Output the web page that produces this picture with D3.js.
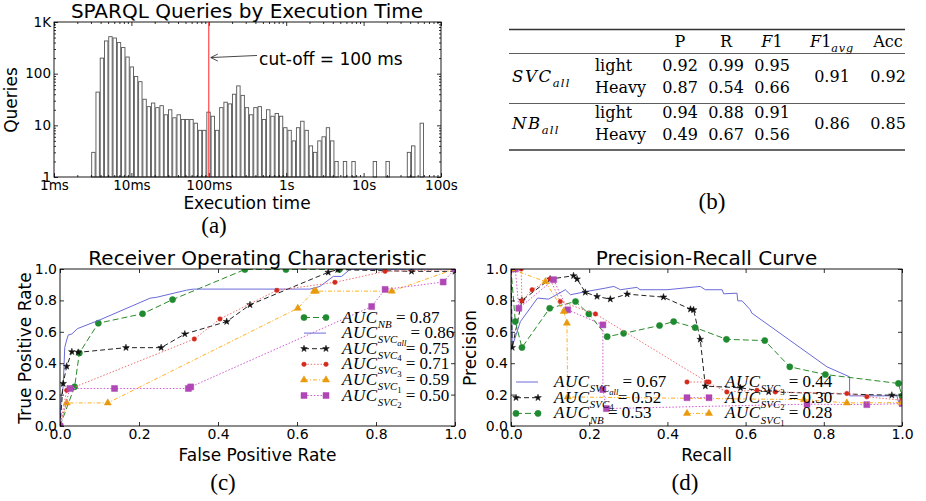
<!DOCTYPE html>
<html>
<head>
<meta charset="utf-8">
<script src="https://cdn.jsdelivr.net/npm/d3@7"></script>
<style>
  body { margin: 0; background: #fff; }
  svg text { fill: #000; }
</style>
</head>
<body>
<svg></svg>
<script>
const width = 926;
const height = 501;

// ---- (a) histogram data ----
const histCounts = [3, 44, 200, 430, 520, 490, 400, 320, 210, 135,
  88, 70, 32, 23, 27, 22, 24, 16, 20, 14,
  16, 13, 13, 13, 11, 8, 8, 18, 15, 8,
  22, 28, 26, 40, 58, 38, 22, 16, 22, 23,
  13, 20, 15, 17, 15, 9, 8, 5, 9, 12,
  8, 4, 3, 5, 6, 9, 5, 2, 0, 2,
  0, 2, 0, 0, 0, 0, 2, 0, 0, 2,
  0, 0, 0, 0, 3, 4, 0, 11];
const histLogStart = 0.487;   // log10(ms) of the first bin edge
const histLogStep = 0.0551;   // bin width in log10(ms)
const cutoffMs = 100;
const timeTicks = [1, 10, 100, 1000, 10000, 100000];
const timeLabels = ["1ms", "10ms", "100ms", "1s", "10s", "100s"];
const countTicks = [1, 10, 100, 1000];
const countLabels = ["1", "10", "100", "1K"];

// ---- (b) table data ----
const tableClasses = ["light", "Heavy"];
const svcScores = [[0.92, 0.99, 0.95], [0.87, 0.54, 0.66]];
const nbScores = [[0.94, 0.88, 0.91], [0.49, 0.67, 0.56]];
const f1Avg = [0.91, 0.86];
const accuracy = [0.92, 0.85];

// ---- (c) ROC curves [fpr, tpr] ----
const rocNB = [[0, 0], [0.037, 0.25], [0.049, 0.465], [0.097, 0.655], [0.209, 0.715], [0.285, 0.805],
  [0.468, 0.997], [0.572, 0.997], [0.707, 0.997], [1, 1]];
const rocSvcAll = [[0, 0], [0.003, 0.185], [0.008, 0.25], [0.012, 0.5], [0.017, 0.548], [0.021, 0.58],
  [0.03, 0.586], [0.044, 0.62], [0.1, 0.675], [0.228, 0.814], [0.245, 0.82], [0.32, 0.865],
  [0.338, 0.872], [0.633, 0.872], [0.658, 0.889], [0.692, 0.953], [0.713, 0.953], [0.734, 0.997], [1, 1]];
const rocSvc4 = [[0, 0], [0.008, 0.27], [0.017, 0.38], [0.03, 0.473], [0.046, 0.469], [0.167, 0.499],
  [0.256, 0.499], [0.316, 0.586], [0.422, 0.665], [0.481, 0.772], [0.679, 0.979], [0.703, 0.996],
  [0.89, 0.985], [1, 0.985]];
const rocSvc3 = [[0, 0], [0.017, 0.228], [0.34, 0.554], [0.405, 0.682], [0.549, 0.864], [0.696, 0.915],
  [0.823, 0.985], [1, 0.996]];
const rocSvc1 = [[0, 0], [0.017, 0.147], [0.121, 0.147], [0.602, 0.75], [0.643, 0.859], [0.648, 0.859],
  [0.84, 0.859], [1, 1]];
const rocSvc2 = [[0, 0], [0.025, 0.239], [0.138, 0.239], [0.325, 0.239], [0.331, 0.249], [0.789, 0.761],
  [0.823, 0.87], [0.97, 0.917], [1, 1]];

// ---- (d) precision-recall curves [recall, precision] ----
const prSvcAll = [[0, 1], [0.003, 0.505], [0.024, 0.665], [0.068, 0.815], [0.096, 0.808], [0.139, 0.868],
  [0.152, 0.836], [0.194, 0.857], [0.241, 0.878], [0.263, 0.889], [0.28, 0.868], [0.322, 0.883],
  [0.33, 0.868], [0.399, 0.868], [0.484, 0.889], [0.497, 0.868], [0.54, 0.868], [0.544, 0.842],
  [0.578, 0.846], [0.58, 0.797], [0.591, 0.797], [0.612, 0.74], [0.616, 0.719], [0.808, 0.377],
  [0.866, 0.313], [0.866, 0.192], [0.987, 0.192], [0.991, 0.153], [1, 0.153]];
const prSvc4 = [[0, 1], [0.003, 0.5], [0.028, 0.8], [0.1, 0.936], [0.16, 0.957], [0.169, 0.936],
  [0.19, 0.851], [0.22, 0.825], [0.254, 0.808], [0.297, 0.84], [0.39, 0.821], [0.459, 0.744],
  [0.467, 0.74], [0.484, 0.552], [0.497, 0.254], [0.587, 0.243], [0.659, 0.217], [0.974, 0.196], [1, 0.196]];
const prNB = [[0, 1], [0.011, 0.665], [0.028, 0.5], [0.099, 0.75], [0.165, 0.793], [0.199, 0.714],
  [0.246, 0.569], [0.288, 0.59], [0.38, 0.64], [0.416, 0.665], [0.471, 0.627], [0.551, 0.552],
  [0.649, 0.544], [0.713, 0.377], [0.804, 0.328], [0.991, 0.271], [1, 0.19]];
const prSvc3 = [[0, 1], [0.026, 1], [0.028, 0.797], [0.054, 0.868], [0.1, 0.936], [0.126, 0.793],
  [0.216, 0.714], [0.501, 0.281], [0.552, 0.217], [0.629, 0.228], [0.676, 0.217], [0.859, 0.207],
  [0.91, 0.186], [1, 0.164]];
const prSvc2 = [[0, 1], [0.011, 1], [0.02, 0.75], [0.109, 0.932], [0.145, 0.74], [0.235, 0.644],
  [0.235, 0.232], [0.244, 0.111], [0.757, 0.139], [0.91, 0.136], [1, 0.143]];
const prSvc1 = [[0, 1], [0.088, 0.92], [0.135, 0.73], [0.143, 0.655], [0.145, 0.185], [0.749, 0.168],
  [0.859, 0.147], [1, 0.149]];

const rocAuc = [0.87, 0.86, 0.75, 0.71, 0.59, 0.50];   // NB, SVC_all, SVC_4, SVC_3, SVC_1, SVC_2
const prAuc = [0.67, 0.52, 0.53, 0.44, 0.30, 0.28];    // SVC_all, SVC_4, NB, SVC_3, SVC_2, SVC_1
const unitTicks = [0, 0.2, 0.4, 0.6, 0.8, 1.0];

// series looks
const styles = {
  nb:   { line: "#2a8a2a", dash: "6,3", marker: d3.symbolCircle, size: 30, fill: "#1f8a2f", sub: ["NB"] },
  all:  { line: "#6a6ad8", dash: null, marker: null, sub: ["SVC", "all"] },
  svc4: { line: "#222", dash: "5,3", marker: d3.symbolStar, size: 14, fill: "#111", sub: ["SVC", "4"] },
  svc3: { line: "#f07070", dash: "1.5,1.8", marker: d3.symbolCircle, size: 16, fill: "#d42a1e", sub: ["SVC", "3"] },
  svc1: { line: "#ffb020", dash: "4,2,1,2", marker: d3.symbolTriangle, size: 22, fill: "#e89a0c", sub: ["SVC", "1"] },
  svc2: { line: "#d25ad2", dash: "1.5,1.8", marker: d3.symbolSquare, size: 36, fill: "#b047b6", sub: ["SVC", "2"] }
};

const sans = "DejaVu Sans, sans-serif";
const serif = "DejaVu Serif, serif";
const roman = "Liberation Serif, serif";

const svg = d3.select("svg").attr("width", width).attr("height", height);

// inward ticks on all four sides, frame drawn as a rect
function drawFrame(g, x, y, xTicks, yTicks, xFmt, yFmt, fontSize, minorX, minorY) {
  const [x0, x1] = x.range();
  const [y0, y1] = y.range();
  const style = a => a.call(s => s.select(".domain").remove())
    .call(s => s.selectAll("line").attr("stroke", "#000").attr("stroke-width", 0.8))
    .call(s => s.selectAll("text").attr("font-family", sans).attr("font-size", fontSize).attr("fill", "#000"));

  g.append("g").attr("transform", `translate(0,${y0})`)
    .call(d3.axisBottom(x).tickValues(xTicks).tickFormat(xFmt).tickSizeInner(-4).tickSizeOuter(0).tickPadding(3)).call(style);
  g.append("g").attr("transform", `translate(0,${y1})`)
    .call(d3.axisTop(x).tickValues(xTicks).tickFormat("").tickSizeInner(-4).tickSizeOuter(0)).call(style);
  g.append("g").attr("transform", `translate(${x0},0)`)
    .call(d3.axisLeft(y).tickValues(yTicks).tickFormat(yFmt).tickSizeInner(-4).tickSizeOuter(0).tickPadding(3)).call(style);
  g.append("g").attr("transform", `translate(${x1},0)`)
    .call(d3.axisRight(y).tickValues(yTicks).tickFormat("").tickSizeInner(-4).tickSizeOuter(0)).call(style);

  if (minorX) {
    g.append("g").attr("transform", `translate(0,${y0})`)
      .call(d3.axisBottom(x).tickValues(minorX).tickFormat("").tickSizeInner(-2).tickSizeOuter(0)).call(style);
    g.append("g").attr("transform", `translate(0,${y1})`)
      .call(d3.axisTop(x).tickValues(minorX).tickFormat("").tickSizeInner(-2).tickSizeOuter(0)).call(style);
  }
  if (minorY) {
    g.append("g").attr("transform", `translate(${x0},0)`)
      .call(d3.axisLeft(y).tickValues(minorY).tickFormat("").tickSizeInner(-2).tickSizeOuter(0)).call(style);
    g.append("g").attr("transform", `translate(${x1},0)`)
      .call(d3.axisRight(y).tickValues(minorY).tickFormat("").tickSizeInner(-2).tickSizeOuter(0)).call(style);
  }

  g.append("rect")
    .attr("x", x0).attr("y", y1).attr("width", x1 - x0).attr("height", y0 - y1)
    .attr("fill", "none").attr("stroke", "#000").attr("stroke-width", 0.9);
}

function minorLog(lo, hi) {
  const out = [];
  for (let d = lo; d < hi; d *= 10) for (let m = 2; m < 10; m++) out.push(d * m);
  return out;
}

function panelLabel(text, x, y) {
  svg.append("text").attr("x", x).attr("y", y).attr("text-anchor", "middle")
    .attr("font-family", roman).attr("font-size", 23).text(text);
}

// math-ish text: parts = [{t, i (italic), s (subscript level), ls (letter spacing)}]
function mathText(sel, x, y, parts, anchor, base, subRatio) {
  const t = sel.append("text").attr("x", x).attr("y", y).attr("text-anchor", anchor || "start");
  const r = subRatio || 0.7;
  const sizes = [base, base * r, base * r * 0.8];
  const drops = [0, base * 0.3, base * 0.45];
  let level = 0;
  parts.forEach(p => {
    const s = p.s || 0;
    t.append("tspan").attr("dy", drops[s] - drops[level])
      .attr("font-style", p.i ? "italic" : "normal")
      .attr("font-size", sizes[s])
      .attr("letter-spacing", p.ls || 0)
      .text(p.t);
    level = s;
  });
  return t;
}

// ================= (a) histogram =================
const ha = svg.append("g");
const hx = d3.scaleLog().domain([1, 100000]).range([54, 441]);
const hy = d3.scaleLog().domain([1, 1000]).range([177, 22]);

const bins = histCounts.map((c, i) => ({
  count: c,
  lo: Math.pow(10, histLogStart + i * histLogStep),
  hi: Math.pow(10, histLogStart + (i + 0.8) * histLogStep)
})).filter(d => d.count > 0);

ha.selectAll("rect.bar").data(bins).join("rect")
  .attr("class", "bar")
  .attr("x", d => hx(d.lo))
  .attr("width", d => hx(d.hi) - hx(d.lo))
  .attr("y", d => hy(d.count))
  .attr("height", d => hy(1) - hy(d.count))
  .attr("fill", "#fff")
  .attr("stroke", "#555")
  .attr("stroke-width", 0.9);

drawFrame(ha, hx, hy, timeTicks, countTicks,
  (d, i) => timeLabels[i], (d, i) => countLabels[i], 13.5,
  minorLog(1, 100000), minorLog(1, 1000));

// cut-off line and note
ha.append("line")
  .attr("x1", hx(cutoffMs)).attr("x2", hx(cutoffMs))
  .attr("y1", hy(1000)).attr("y2", hy(1))
  .attr("stroke", "#f22").attr("stroke-width", 1);

const tip = [hx(cutoffMs) + 2, hy(205)];
const tail = [hx(420), hy(225)];
ha.append("line")
  .attr("x1", tail[0]).attr("y1", tail[1]).attr("x2", tip[0]).attr("y2", tip[1])
  .attr("stroke", "#333").attr("stroke-width", 0.9);
ha.append("path")
  .attr("d", `M${tip[0] + 7},${tip[1] - 3.5}L${tip[0]},${tip[1]}L${tip[0] + 7},${tip[1] + 3.5}`)
  .attr("fill", "none").attr("stroke", "#333").attr("stroke-width", 0.9);
ha.append("text")
  .attr("x", tail[0] + 2).attr("y", hy(150))
  .attr("font-family", sans).attr("font-size", 17)
  .text("cut-off = 100 ms");

ha.append("text").attr("x", 247).attr("y", 18).attr("text-anchor", "middle")
  .attr("font-family", sans).attr("font-size", 20).text("SPARQL Queries by Execution Time");
ha.append("text").attr("x", 247).attr("y", 209).attr("text-anchor", "middle")
  .attr("font-family", sans).attr("font-size", 17).text("Execution time");
ha.append("text").attr("transform", "translate(17,100) rotate(-90)").attr("text-anchor", "middle")
  .attr("font-family", sans).attr("font-size", 17).text("Queries");
panelLabel("(a)", 214, 233);

// ================= (b) table =================
const fs = 16;
const tb = svg.append("g").attr("font-family", serif).attr("font-size", fs);
const tL = 509, tR = 905;
const colX = [680, 726, 772, 832, 888];

[[29.5, 1.3], [53.5, 0.8], [103.5, 0.8], [150, 1.3]].forEach(([yy, w]) => {
  tb.append("line").attr("x1", tL).attr("x2", tR).attr("y1", yy).attr("y2", yy)
    .attr("stroke", "#333").attr("stroke-width", w);
});

tb.append("text").attr("x", colX[0]).attr("y", 47).attr("text-anchor", "middle").text("P");
tb.append("text").attr("x", colX[1]).attr("y", 47).attr("text-anchor", "middle").text("R");
mathText(tb, colX[2], 47, [{ t: "F", i: true }, { t: "1" }], "middle", fs);
mathText(tb, colX[3], 47, [{ t: "F", i: true }, { t: "1" }, { t: "avg", i: true, s: 1, ls: 0.8 }], "middle", fs);
tb.append("text").attr("x", colX[4]).attr("y", 47).attr("text-anchor", "middle").text("Acc");

const groups = [
  { name: "SVC", scores: svcScores, f1: f1Avg[0], acc: accuracy[0], rows: [70.5, 92.5], mid: 82 },
  { name: "NB", scores: nbScores, f1: f1Avg[1], acc: accuracy[1], rows: [117.5, 140], mid: 129 }
];
groups.forEach(gr => {
  mathText(tb, 512, gr.mid, [{ t: gr.name, i: true, ls: 1.6 }, { t: "all", i: true, s: 1, ls: 1.2 }], "start", fs + 0.5);
  gr.scores.forEach((row, r) => {
    tb.append("text").attr("x", 595).attr("y", gr.rows[r]).text(tableClasses[r]);
    row.forEach((v, c) => {
      tb.append("text").attr("x", colX[c]).attr("y", gr.rows[r]).attr("text-anchor", "middle").text(v.toFixed(2));
    });
  });
  tb.append("text").attr("x", colX[3]).attr("y", gr.mid).attr("text-anchor", "middle").text(gr.f1.toFixed(2));
  tb.append("text").attr("x", colX[4]).attr("y", gr.mid).attr("text-anchor", "middle").text(gr.acc.toFixed(2));
});
panelLabel("(b)", 712, 209);

// ================= (c) / (d) curves =================
function curvePanel(xr, title, xLabel, yLabel, yLabelX, series, legend, clipId) {
  const g = svg.append("g");
  const x = d3.scaleLinear().domain([0, 1]).range(xr);
  const y = d3.scaleLinear().domain([0, 1]).range([426, 269]);

  g.append("clipPath").attr("id", clipId).append("rect")
    .attr("x", xr[0]).attr("y", 269).attr("width", xr[1] - xr[0]).attr("height", 426 - 269);
  const plot = g.append("g").attr("clip-path", `url(#${clipId})`);
  const line = d3.line().x(d => x(d[0])).y(d => y(d[1]));

  series.forEach(s => {
    const st = styles[s.key];
    plot.append("path").datum(s.data)
      .attr("d", line).attr("fill", "none")
      .attr("stroke", st.line).attr("stroke-width", 1)
      .attr("stroke-dasharray", st.dash);
    if (st.marker) {
      plot.selectAll(null).data(s.data).join("path")
        .attr("transform", d => `translate(${x(d[0])},${y(d[1])})`)
        .attr("d", d3.symbol(st.marker, st.size))
        .attr("fill", st.fill).attr("stroke", st.fill).attr("stroke-width", 0.5);
    }
  });

  drawFrame(g, x, y, unitTicks, unitTicks, d3.format(".1f"), d3.format(".1f"), 14);

  g.append("text").attr("x", (xr[0] + xr[1]) / 2).attr("y", 265).attr("text-anchor", "middle")
    .attr("font-family", sans).attr("font-size", 20).text(title);
  g.append("text").attr("x", (xr[0] + xr[1]) / 2).attr("y", 461).attr("text-anchor", "middle")
    .attr("font-family", sans).attr("font-size", 17).text(xLabel);
  g.append("text").attr("transform", `translate(${yLabelX},348) rotate(-90)`).attr("text-anchor", "middle")
    .attr("font-family", sans).attr("font-size", 17).text(yLabel);

  // legend: short line with two markers, then the AUC label
  legend.forEach(e => {
    const st = styles[e.key];
    g.append("line").attr("x1", e.x).attr("x2", e.x + 22).attr("y1", e.y).attr("y2", e.y)
      .attr("stroke", st.line).attr("stroke-width", 1).attr("stroke-dasharray", st.dash);
    if (st.marker) {
      [e.x, e.x + 22].forEach(mx => {
        g.append("path").attr("transform", `translate(${mx},${e.y})`)
          .attr("d", d3.symbol(st.marker, st.size))
          .attr("fill", st.fill).attr("stroke", st.fill).attr("stroke-width", 0.5);
      });
    }
    const parts = [{ t: "AUC", i: true, ls: 0.6 }, { t: st.sub[0], i: true, s: 1 }];
    if (st.sub[1]) parts.push({ t: st.sub[1], i: st.sub[1] === "all", s: 2 });
    parts.push({ t: " = " + e.auc.toFixed(2), s: 0 });
    mathText(g.append("g").attr("font-family", roman), e.x + 38, e.y + 5, parts, "start", 17, 0.64);
  });
}

const rocKeys = ["nb", "all", "svc4", "svc3", "svc1", "svc2"];
curvePanel([60, 455], "Receiver Operating Characteristic", "False Positive Rate", "True Positive Rate", 31,
  [rocNB, rocSvcAll, rocSvc4, rocSvc3, rocSvc1, rocSvc2].map((d, i) => ({ key: rocKeys[i], data: d })),
  rocKeys.map((k, i) => ({ key: k, auc: rocAuc[i], x: 304, y: 317.5 + i * 15.6 })),
  "clipRoc");
panelLabel("(c)", 223, 490);

const prKeys = ["all", "svc4", "nb", "svc3", "svc2", "svc1"];
curvePanel([511, 902], "Precision-Recall Curve", "Recall", "Precision", 476,
  [prSvcAll, prSvc4, prNB, prSvc3, prSvc2, prSvc1].map((d, i) => ({ key: prKeys[i], data: d })),
  prKeys.map((k, i) => ({ key: k, auc: prAuc[i], x: i < 3 ? 516 : 687, y: 382 + (i % 3) * 15.7 })),
  "clipPr");
panelLabel("(d)", 685, 490);
</script>
</body>
</html>
